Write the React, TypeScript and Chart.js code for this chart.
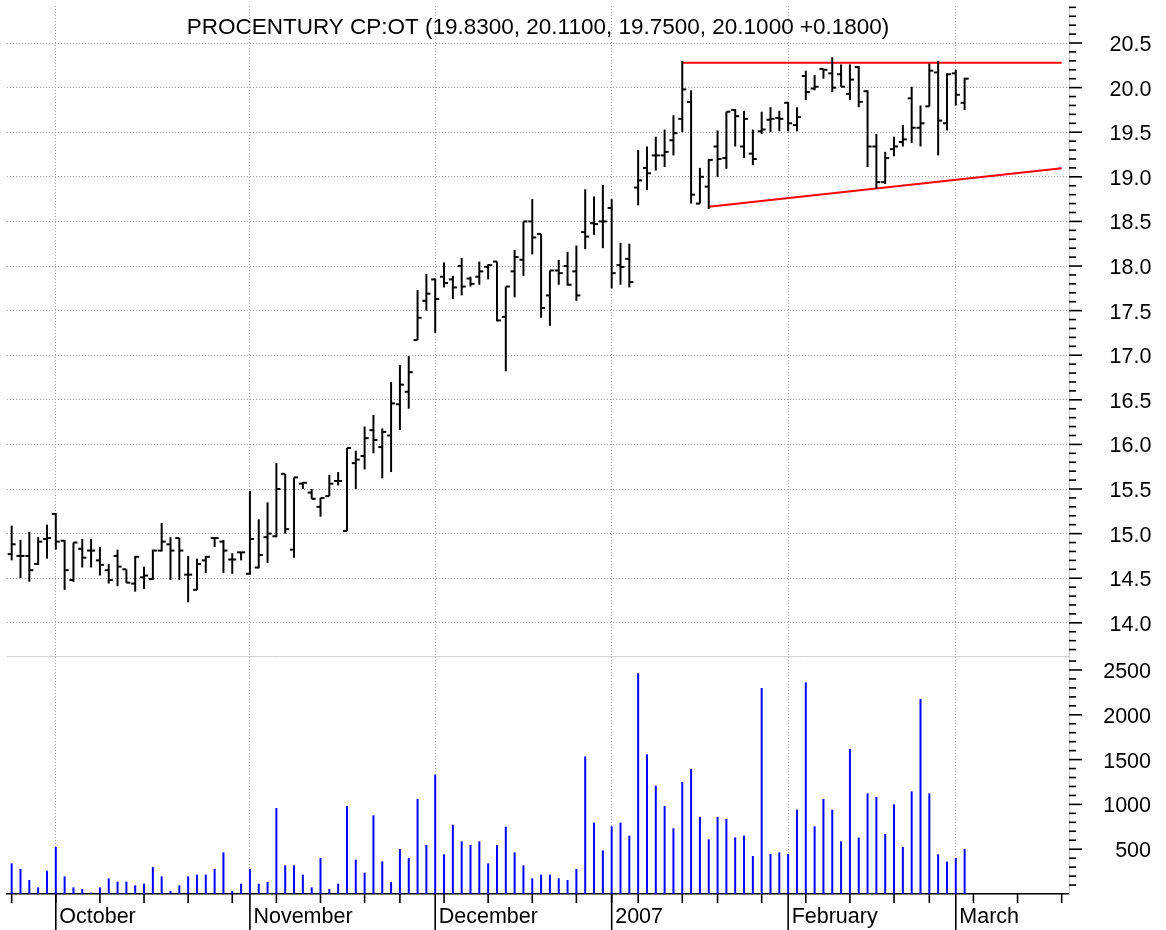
import React, { useEffect, useRef } from 'react';
import { Chart, registerables } from 'chart.js';

Chart.register(...registerables);

const FONT = '"Liberation Sans", Arial, Helvetica, sans-serif';
const TITLE = 'PROCENTURY CP:OT (19.8300, 20.1100, 19.7500, 20.1000 +0.1800)';

// Trading days: index 0 = 25 Sep 2006 ... index 108 = 2 Mar 2007
const OPEN = [
  14.77, 14.75, 14.75, 14.66, 14.94, 15.22, 14.92, 14.48, 14.83, 14.81,
  14.70, 14.59, 14.75, 14.60, 14.44, 14.51, 14.49, 14.81, 14.88, 14.95,
  14.54, 14.37, 14.70, 14.95, 14.91, 14.71, 14.79, 14.55, 14.62, 14.96,
  14.97, 15.67, 14.82, 15.56, 15.46, 15.30, 15.42, 15.59, 15.03, 15.79,
  15.87, 16.16, 15.97, 16.10, 16.45, 16.59, 17.17, 17.61, 17.85, 17.88,
  17.85, 18.00, 17.86, 17.88, 17.99, 18.05, 17.43, 17.94, 18.07, 18.50,
  18.36, 17.67, 17.95, 18.00, 17.94, 18.38, 18.48, 18.50, 18.65, 18.01,
  18.08, 18.88, 19.10, 19.24, 19.24, 19.41, 19.65, 19.84, 18.70, 18.89,
  19.34, 19.21, 19.75, 19.34, 19.26, 19.51, 19.64, 19.66, 19.83, 19.58,
  20.13, 19.99, 20.21, 20.16, 20.15, 19.93, 20.23, 19.96, 19.34, 18.94,
  19.31, 19.39, 19.88, 19.55, 19.79, 20.17, 19.60, 20.16, 19.83,
];
const HIGH = [
  15.09, 14.93, 15.02, 14.96, 15.10, 15.23, 14.93, 14.90, 14.94, 14.94,
  14.85, 14.66, 14.82, 14.60, 14.75, 14.63, 14.82, 15.12, 14.96, 14.95,
  14.75, 14.72, 14.75, 14.96, 14.93, 14.78, 14.79, 15.48, 15.16, 15.35,
  15.79, 15.67, 15.63, 15.58, 15.50, 15.40, 15.66, 15.69, 15.96, 15.93,
  16.20, 16.33, 16.18, 16.70, 16.89, 16.99, 17.73, 17.91, 17.86, 18.04,
  17.89, 18.09, 17.88, 18.05, 18.02, 18.05, 17.77, 18.18, 18.50, 18.75,
  18.36, 17.95, 18.07, 18.16, 18.23, 18.86, 18.78, 18.91, 18.75, 18.26,
  18.25, 19.30, 19.34, 19.45, 19.53, 19.69, 20.30, 19.97, 19.10, 19.20,
  19.52, 19.73, 19.76, 19.74, 19.53, 19.73, 19.78, 19.74, 19.84, 19.78,
  20.19, 20.14, 20.21, 20.34, 20.26, 20.26, 20.24, 19.97, 19.48, 19.28,
  19.45, 19.58, 20.01, 19.80, 20.27, 20.30, 20.16, 20.20, 20.11,
];
const LOW = [
  14.70, 14.50, 14.46, 14.65, 14.72, 14.82, 14.37, 14.46, 14.62, 14.62,
  14.53, 14.44, 14.41, 14.45, 14.35, 14.38, 14.48, 14.80, 14.48, 14.48,
  14.23, 14.37, 14.56, 14.85, 14.56, 14.55, 14.70, 14.54, 14.61, 14.67,
  14.96, 15.00, 14.73, 15.50, 15.39, 15.19, 15.42, 15.54, 15.03, 15.50,
  15.72, 15.90, 15.62, 15.69, 16.16, 16.40, 17.17, 17.50, 17.25, 17.76,
  17.63, 17.67, 17.77, 17.79, 17.85, 17.38, 16.82, 17.65, 17.89, 18.13,
  17.42, 17.33, 17.79, 17.78, 17.61, 18.19, 18.35, 18.20, 17.75, 17.79,
  17.76, 18.68, 18.85, 19.07, 19.11, 19.24, 19.50, 18.70, 18.70, 18.64,
  19.00, 19.09, 19.34, 19.21, 19.13, 19.48, 19.50, 19.51, 19.51, 19.51,
  19.86, 19.97, 20.10, 19.95, 20.01, 19.86, 19.78, 19.11, 18.87, 18.92,
  19.23, 19.34, 19.38, 19.34, 19.79, 19.24, 19.52, 19.80, 19.75,
];
const CLOSE = [
  14.88, 14.75, 14.59, 14.91, 14.95, 14.91, 14.59, 14.90, 14.73, 14.81,
  14.65, 14.48, 14.63, 14.45, 14.74, 14.53, 14.81, 14.91, 14.81, 14.81,
  14.54, 14.66, 14.74, 14.95, 14.81, 14.71, 14.79, 14.94, 14.76, 15.00,
  15.50, 15.05, 15.63, 15.57, 15.39, 15.40, 15.56, 15.59, 15.96, 15.83,
  16.07, 16.05, 16.14, 16.46, 16.67, 16.81, 17.42, 17.69, 17.63, 17.81,
  17.76, 17.77, 17.80, 17.94, 18.01, 17.39, 17.77, 18.10, 18.50, 18.32,
  17.53, 17.95, 17.92, 17.79, 17.67, 18.33, 18.47, 18.50, 17.92, 17.99,
  17.82, 18.96, 19.04, 19.24, 19.28, 19.49, 19.98, 18.80, 19.00, 19.19,
  19.20, 19.73, 19.68, 19.65, 19.20, 19.53, 19.65, 19.65, 19.60, 19.67,
  19.95, 20.01, 20.20, 20.00, 20.01, 20.09, 19.84, 19.34, 18.94, 19.21,
  19.34, 19.42, 19.55, 19.60, 20.19, 19.63, 20.15, 19.92, 20.10,
];
const VOLUME = [
  342, 279, 156, 74, 260, 525, 197, 74, 56, 15,
  74, 175, 138, 138, 97, 115, 301, 197, 33, 97,
  197, 216, 216, 279, 465, 33, 115, 279, 115, 134,
  960, 320, 320, 216, 74, 402, 56, 115, 982, 383,
  238, 878, 365, 134, 502, 402, 1060, 547, 1332, 443,
  774, 588, 547, 588, 342, 547, 751, 465, 320, 175,
  216, 216, 175, 156, 279, 1536, 796, 487, 755, 796,
  651, 2463, 1559, 1209, 982, 733, 1250, 1395, 859, 610,
  859, 837, 632, 651, 424, 2299, 446, 465, 446, 941,
  2362, 755, 1060, 941, 588, 1618, 629, 1123, 1083, 670,
  1001, 525, 1145, 2176, 1123, 443, 361, 402, 502,
];

// Trend lines (trading-day index, price)
const RESIST_X = [76, 119];
const RESIST_Y = [20.28, 20.28];
const SUPPORT_X = [79, 119];
const SUPPORT_Y = [18.665, 19.095];

// Axis ticks
const MONTH_LABELS = ['October', 'November', 'December', '2007', 'February', 'March'];
const MONTH_START = [5, 27, 48, 68, 88, 107];
const WEEK_START = [0, 5, 10, 15, 20, 25, 30, 35, 40, 44, 49, 54, 59, 64, 68, 71, 76, 80, 85, 90, 95, 100, 104, 109, 114, 119];
const PRICE_TICKS = [14.0, 14.5, 15.0, 15.5, 16.0, 16.5, 17.0, 17.5, 18.0, 18.5, 19.0, 19.5, 20.0, 20.5];
const VOLUME_TICKS = [500, 1000, 1500, 2000, 2500];

const X_MIN = -0.53;
const X_MAX = 119.83;
const PRICE_MIN = 13.628;
const PRICE_MAX = 20.915;
const VOL_MIN = 0;
const VOL_MAX = 2656;

const zeroPad = (s: any) => {
  s.paddingTop = 0;
  s.paddingBottom = 0;
  s.paddingLeft = 0;
  s.paddingRight = 0;
};

const decorations = {
  id: 'decorations',
  afterDraw(chart: any) {
    const { ctx, chartArea } = chart;
    const price = chart.scales.price;
    const vol = chart.scales.vol;
    const x = chart.scales.x;
    ctx.save();
    // pane divider
    ctx.strokeStyle = '#d2d2d2';
    ctx.lineWidth = 1;
    const dy = Math.round(vol.top) + 0.5;
    ctx.beginPath();
    ctx.moveTo(chartArea.left, dy);
    ctx.lineTo(chartArea.right, dy);
    ctx.stroke();

    // y-axis tick marks (minor + major)
    ctx.strokeStyle = '#000';
    ctx.lineWidth = 1.6;
    const yTicks = (scale: any, minor: number, every: number) => {
      const start = Math.ceil(scale.min / minor - 1e-6);
      const end = Math.floor(scale.max / minor + 1e-6);
      for (let k = start; k <= end; k++) {
        const v = k * minor;
        if (v <= scale.min + 1e-9) continue;
        const y = scale.getPixelForValue(v);
        const len = k % every === 0 ? 13 : 7;
        ctx.beginPath();
        ctx.moveTo(scale.left, y);
        ctx.lineTo(scale.left + len, y);
        ctx.stroke();
      }
    };
    yTicks(price, 0.1, 5);
    yTicks(vol, 100, 5);

    // x-axis week ticks and month separators
    const base = x.top;
    ctx.lineWidth = 1.6;
    WEEK_START.forEach((i) => {
      const px = x.getPixelForValue(i);
      ctx.beginPath();
      ctx.moveTo(px, base);
      ctx.lineTo(px, base + 9);
      ctx.stroke();
    });
    MONTH_START.forEach((i) => {
      const px = x.getPixelForValue(i);
      ctx.beginPath();
      ctx.moveTo(px, base);
      ctx.lineTo(px, chart.height);
      ctx.stroke();
    });

    // caption
    ctx.fillStyle = '#000';
    ctx.font = `22.5px ${FONT}`;
    ctx.textAlign = 'center';
    ctx.textBaseline = 'alphabetic';
    ctx.fillText(TITLE, (chartArea.left + chartArea.right) / 2, 33.5);
    ctx.restore();
  },
};

export default function App() {
  const ref = useRef<HTMLCanvasElement | null>(null);

  useEffect(() => {
    document.body.style.margin = '0';
    document.body.style.background = '#fff';
    const canvas = ref.current;
    if (!canvas) return;

    const gridColor = '#a8a8a8';
    const chart = new Chart(canvas, {
      type: 'bar',
      data: {
        datasets: [
          {
            type: 'bar',
            label: 'Range',
            xAxisID: 'x',
            yAxisID: 'price',
            data: HIGH.map((h, i) => ({ x: i, y: [LOW[i], h] })),
            backgroundColor: '#000',
            borderWidth: 0,
            grouped: false,
            maxBarThickness: 2,
          } as any,
          {
            type: 'line',
            label: 'Open',
            xAxisID: 'x',
            yAxisID: 'price',
            data: OPEN.map((v, i) => ({ x: i, y: v })),
            showLine: false,
            pointStyle: 'dash',
            pointRadius: 4,
            pointRotation: 180,
            pointBorderColor: '#000',
            pointBackgroundColor: '#000',
            pointBorderWidth: 2,
          } as any,
          {
            type: 'line',
            label: 'Close',
            xAxisID: 'x',
            yAxisID: 'price',
            data: CLOSE.map((v, i) => ({ x: i, y: v })),
            showLine: false,
            pointStyle: 'dash',
            pointRadius: 4,
            pointRotation: 0,
            pointBorderColor: '#000',
            pointBackgroundColor: '#000',
            pointBorderWidth: 2,
          } as any,
          {
            type: 'bar',
            label: 'Volume',
            xAxisID: 'x',
            yAxisID: 'vol',
            data: VOLUME.map((v, i) => ({ x: i, y: v })),
            backgroundColor: '#0000ff',
            borderWidth: 0,
            grouped: false,
            maxBarThickness: 2,
          } as any,
          {
            type: 'line',
            label: 'Resistance',
            xAxisID: 'x',
            yAxisID: 'price',
            data: RESIST_X.map((v, i) => ({ x: v, y: RESIST_Y[i] })),
            borderColor: '#ff0000',
            borderWidth: 2,
            pointRadius: 0,
            fill: false,
          } as any,
          {
            type: 'line',
            label: 'Support',
            xAxisID: 'x',
            yAxisID: 'price',
            data: SUPPORT_X.map((v, i) => ({ x: v, y: SUPPORT_Y[i] })),
            borderColor: '#ff0000',
            borderWidth: 2,
            pointRadius: 0,
            fill: false,
          } as any,
        ],
      },
      options: {
        responsive: false,
        animation: false,
        events: [],
        layout: { padding: { top: 6, left: 7, right: 15, bottom: 0 } },
        plugins: {
          legend: { display: false },
          tooltip: { enabled: false },
          title: { display: false },
        },
        scales: {
          x: {
            type: 'linear',
            position: 'bottom',
            min: X_MIN,
            max: X_MAX,
            bounds: 'data',
            offset: false,
            afterBuildTicks: (s: any) => {
              s.ticks = MONTH_START.map((v) => ({ value: v }));
            },
            afterFit: (s: any) => {
              s.height = 36;
              zeroPad(s);
            },
            grid: {
              display: true,
              offset: false,
              drawTicks: false,
              color: gridColor,
              lineWidth: 1,
            },
            border: { display: true, color: '#000', width: 1.5, dash: [1, 2] },
            ticks: {
              autoSkip: false,
              maxRotation: 0,
              minRotation: 0,
              align: 'start',
              labelOffset: 3.5,
              padding: 10,
              color: '#000',
              font: { family: FONT, size: 21.5 },
              callback: (v: any) => {
                const k = MONTH_START.indexOf(Number(v));
                return k >= 0 ? MONTH_LABELS[k] : '';
              },
            },
          },
          price: {
            type: 'linear',
            position: 'right',
            stack: 'panes',
            stackWeight: 650,
            min: PRICE_MIN,
            max: PRICE_MAX,
            bounds: 'data',
            beginAtZero: false,
            afterBuildTicks: (s: any) => {
              s.ticks = PRICE_TICKS.map((v) => ({ value: v }));
            },
            afterFit: (s: any) => {
              s.width = 82;
              zeroPad(s);
            },
            grid: { display: true, drawTicks: false, color: gridColor, lineWidth: 1 },
            border: { display: true, color: '#c4c4c4', width: 1, dash: [1, 2] },
            ticks: {
              autoSkip: false,
              crossAlign: 'near',
              padding: 40.5,
              labelOffset: 2,
              color: '#000',
              font: { family: FONT, size: 21.5 },
              callback: (v: any) => Number(v).toFixed(1),
            },
          },
          vol: {
            type: 'linear',
            position: 'right',
            stack: 'panes',
            stackWeight: 238,
            min: VOL_MIN,
            max: VOL_MAX,
            bounds: 'data',
            offset: false,
            afterBuildTicks: (s: any) => {
              s.ticks = VOLUME_TICKS.map((v) => ({ value: v }));
            },
            afterFit: (s: any) => {
              s.width = 82;
              zeroPad(s);
            },
            grid: { display: false, drawTicks: false },
            border: { display: true, color: '#c4c4c4', width: 1 },
            ticks: {
              autoSkip: false,
              crossAlign: 'far',
              padding: 0,
              labelOffset: 2,
              color: '#000',
              font: { family: FONT, size: 21.5 },
              callback: (v: any) => String(v),
            },
          },
        },
      } as any,
      plugins: [decorations],
    });

    return () => {
      chart.destroy();
    };
  }, []);

  return (
    <div style={{ width: 1166, height: 930, background: '#fff' }}>
      <canvas ref={ref} width={1166} height={930} style={{ display: 'block' }} />
    </div>
  );
}
